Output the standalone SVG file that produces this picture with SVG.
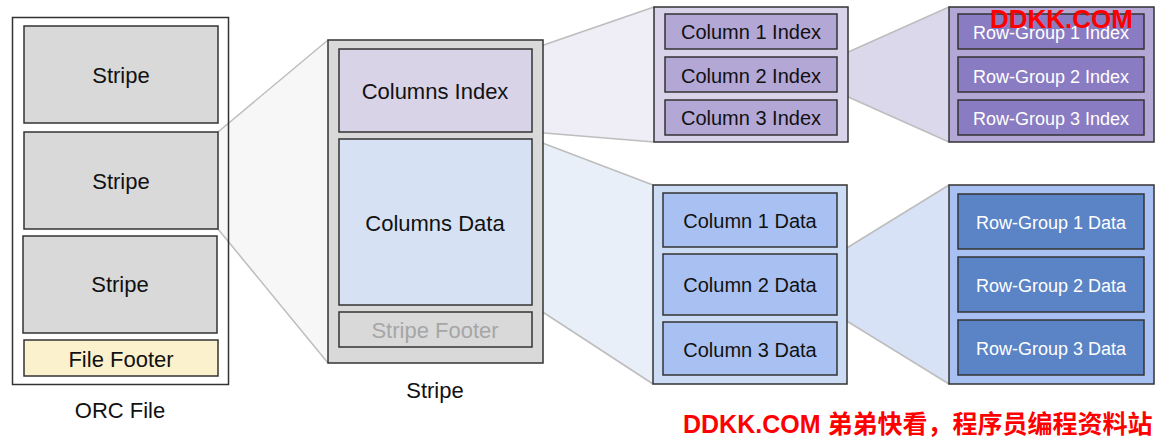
<svg xmlns="http://www.w3.org/2000/svg" width="1163" height="438" viewBox="0 0 1163 438">
<style>
text{font-family:"Liberation Sans",Arial,sans-serif;text-anchor:middle}
.box{stroke:#333;stroke-width:1.5}
.t22{font-size:22px;fill:#111}
.t20{font-size:20px;fill:#111}
.t18{font-size:18px;fill:#fff}
.zoom{stroke:#bdbdbd;stroke-width:1.5}
.wm{font-family:"Liberation Sans","Noto Sans CJK SC",sans-serif;font-weight:bold;fill:#ff0000;text-anchor:start}
</style>
<rect width="1163" height="438" fill="#fff"/>
<g id="connectors">
<polygon points="218,132 328,40 328,363 218,229" fill="#f7f7f7" stroke="none"/>
<line class="zoom" x1="218" y1="132" x2="328" y2="40"/>
<line class="zoom" x1="218" y1="229" x2="328" y2="363"/>
<polygon points="532,49 654,7 654,142 532,132" fill="#efedf6" stroke="none"/>
<line class="zoom" x1="532" y1="49" x2="654" y2="7"/>
<line class="zoom" x1="532" y1="132" x2="654" y2="142"/>
<polygon points="532,139 653,185 653,384 532,305" fill="#e9eff8" stroke="none"/>
<line class="zoom" x1="532" y1="139" x2="653" y2="185"/>
<line class="zoom" x1="532" y1="305" x2="653" y2="384"/>
<polygon points="837,57 949,7 949,142 837,92" fill="#dcd8ec" stroke="none"/>
<line class="zoom" x1="837" y1="57" x2="949" y2="7"/>
<line class="zoom" x1="837" y1="92" x2="949" y2="142"/>
<polygon points="837,254 949,185 949,384 837,315" fill="#d8e2f7" stroke="none"/>
<line class="zoom" x1="837" y1="254" x2="949" y2="185"/>
<line class="zoom" x1="837" y1="315" x2="949" y2="384"/>
</g>
<g id="orc-file">
<rect class="box" x="12.5" y="17.5" width="216" height="367" fill="none"/>
<text class="t22" x="120" y="418">ORC File</text>
</g>
<g id="stripe1"><rect class="box" x="24" y="26" width="194" height="97" fill="#d9d9d9"/><text class="t22" x="121" y="83">Stripe</text></g>
<g id="stripe2"><rect class="box" x="24" y="132" width="194" height="97" fill="#d9d9d9"/><text class="t22" x="121" y="189">Stripe</text></g>
<g id="stripe3"><rect class="box" x="23" y="236" width="194" height="97" fill="#d9d9d9"/><text class="t22" x="120" y="292">Stripe</text></g>
<g id="file-footer"><rect class="box" x="24" y="340" width="194" height="36" fill="#fcf1cd"/><text class="t22" x="121" y="367">File Footer</text></g>
<g id="stripe-detail">
<rect class="box" x="328" y="40" width="215" height="323" fill="#d9d9d9" stroke="#444"/>
<text class="t22" x="435" y="398">Stripe</text>
</g>
<g id="columns-index"><rect class="box" x="339" y="49" width="193" height="83" fill="#d9d3e8"/><text class="t22" x="435" y="99">Columns Index</text></g>
<g id="columns-data"><rect class="box" x="339" y="139" width="193" height="166" fill="#d6e2f3"/><text class="t22" x="435" y="231">Columns Data</text></g>
<g id="stripe-footer"><rect class="box" x="339" y="312" width="193" height="35" fill="#d9d9d9"/><text class="t22" x="435" y="338" style="fill:#a6a6a6">Stripe Footer</text></g>
<g id="column-index-box">
<rect class="box" x="654" y="7" width="194" height="135" fill="#d9d3ea"/>
<rect class="box" x="665" y="14" width="172" height="35" fill="#b3a7d6"/><text class="t20" x="751" y="39">Column 1 Index</text>
<rect class="box" x="665" y="57" width="172" height="35" fill="#b3a7d6"/><text class="t20" x="751" y="82.5">Column 2 Index</text>
<rect class="box" x="665" y="100" width="172" height="35" fill="#b3a7d6"/><text class="t20" x="751" y="125">Column 3 Index</text>
</g>
<g id="rowgroup-index-box">
<rect class="box" x="949" y="7" width="205" height="135" fill="#b3a7d6"/>
<rect class="box" x="958" y="14" width="186" height="35" fill="#8a7cc2"/><text class="t18" x="1051" y="39">Row-Group 1 Index</text>
<rect class="box" x="958" y="57" width="186" height="35" fill="#8a7cc2"/><text class="t18" x="1051" y="82.5">Row-Group 2 Index</text>
<rect class="box" x="958" y="100" width="186" height="35" fill="#8a7cc2"/><text class="t18" x="1051" y="125">Row-Group 3 Index</text>
</g>
<g id="column-data-box">
<rect class="box" x="653" y="185" width="194" height="199" fill="#cddcf5"/>
<rect class="box" x="663" y="193" width="174" height="54" fill="#a8c1f2"/><text class="t20" x="750" y="228">Column 1 Data</text>
<rect class="box" x="663" y="254" width="174" height="61" fill="#a8c1f2"/><text class="t20" x="750" y="291.5">Column 2 Data</text>
<rect class="box" x="663" y="322" width="174" height="53" fill="#a8c1f2"/><text class="t20" x="750" y="356.5">Column 3 Data</text>
</g>
<g id="rowgroup-data-box">
<rect class="box" x="949" y="185" width="205" height="199" fill="#a8c1f2"/>
<rect class="box" x="958" y="194" width="186" height="55" fill="#5a84c6"/><text class="t18" x="1051" y="229">Row-Group 1 Data</text>
<rect class="box" x="958" y="257" width="186" height="55" fill="#5a84c6"/><text class="t18" x="1051" y="292">Row-Group 2 Data</text>
<rect class="box" x="958" y="320" width="186" height="55" fill="#5a84c6"/><text class="t18" x="1051" y="355">Row-Group 3 Data</text>
</g>
<g id="watermarks">
<text class="wm" x="990" y="28" font-size="26">DDKK.COM</text>
<text class="wm" x="683" y="433" font-size="25">DDKK.COM 弟弟快看，程序员编程资料站</text>
</g>
</svg>
